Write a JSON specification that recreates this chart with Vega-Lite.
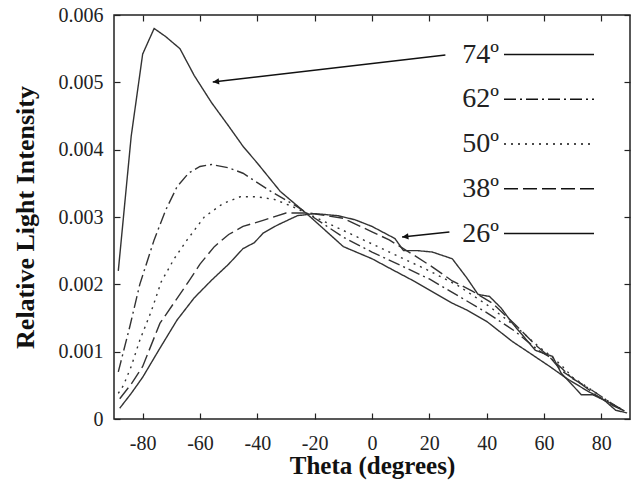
{
  "$schema": "https://vega.github.io/schema/vega-lite/v6.json",
  "width": 516,
  "height": 404,
  "autosize": {"type": "none"},
  "padding": {"left": 114, "top": 15, "right": 6, "bottom": 64},
  "background": "white",
  "config": {
    "font": "Liberation Serif",
    "view": {"stroke": "#222", "strokeWidth": 1.5},
    "axis": {
      "domain": false,
      "grid": false,
      "tickColor": "#222",
      "tickSize": -6,
      "tickWidth": 1.2,
      "labelFont": "Liberation Serif",
      "labelFontSize": 20,
      "labelColor": "#222",
      "titleFont": "Liberation Serif",
      "titleFontSize": 26,
      "titleFontWeight": "bold",
      "titleColor": "#111"
    }
  },
  "datasets": {
    "curves": [
      {"series": "74º", "theta": -88.5, "intensity": 0.0022},
      {"series": "74º", "theta": -84, "intensity": 0.0042},
      {"series": "74º", "theta": -80, "intensity": 0.00542},
      {"series": "74º", "theta": -76, "intensity": 0.0058},
      {"series": "74º", "theta": -72, "intensity": 0.00568},
      {"series": "74º", "theta": -67, "intensity": 0.0055},
      {"series": "74º", "theta": -62, "intensity": 0.0051},
      {"series": "74º", "theta": -56, "intensity": 0.0047},
      {"series": "74º", "theta": -50, "intensity": 0.00435},
      {"series": "74º", "theta": -45, "intensity": 0.00405},
      {"series": "74º", "theta": -40, "intensity": 0.0038},
      {"series": "74º", "theta": -32, "intensity": 0.00338},
      {"series": "74º", "theta": -22, "intensity": 0.00302},
      {"series": "74º", "theta": -10, "intensity": 0.00256},
      {"series": "74º", "theta": 0, "intensity": 0.00238},
      {"series": "74º", "theta": 7, "intensity": 0.00222},
      {"series": "74º", "theta": 15, "intensity": 0.00204},
      {"series": "74º", "theta": 28, "intensity": 0.00172},
      {"series": "74º", "theta": 33, "intensity": 0.00162},
      {"series": "74º", "theta": 40, "intensity": 0.00145},
      {"series": "74º", "theta": 49, "intensity": 0.00115},
      {"series": "74º", "theta": 55, "intensity": 0.00098},
      {"series": "74º", "theta": 62, "intensity": 0.00078},
      {"series": "74º", "theta": 68, "intensity": 0.0006},
      {"series": "74º", "theta": 75, "intensity": 0.00042},
      {"series": "74º", "theta": 82, "intensity": 0.00026},
      {"series": "74º", "theta": 88, "intensity": 0.00012},

      {"series": "62º", "theta": -88.5, "intensity": 0.0007},
      {"series": "62º", "theta": -84.5, "intensity": 0.00137},
      {"series": "62º", "theta": -81, "intensity": 0.002},
      {"series": "62º", "theta": -76, "intensity": 0.00266},
      {"series": "62º", "theta": -72, "intensity": 0.0031},
      {"series": "62º", "theta": -68, "intensity": 0.00345},
      {"series": "62º", "theta": -64, "intensity": 0.00365},
      {"series": "62º", "theta": -60, "intensity": 0.00375},
      {"series": "62º", "theta": -56, "intensity": 0.00378},
      {"series": "62º", "theta": -50, "intensity": 0.00373},
      {"series": "62º", "theta": -45, "intensity": 0.00365},
      {"series": "62º", "theta": -36, "intensity": 0.0034},
      {"series": "62º", "theta": -26, "intensity": 0.00315},
      {"series": "62º", "theta": -22, "intensity": 0.00304},
      {"series": "62º", "theta": -10, "intensity": 0.0027},
      {"series": "62º", "theta": 0, "intensity": 0.00248},
      {"series": "62º", "theta": 10, "intensity": 0.00228},
      {"series": "62º", "theta": 20, "intensity": 0.00208},
      {"series": "62º", "theta": 28, "intensity": 0.00188},
      {"series": "62º", "theta": 40, "intensity": 0.00158},
      {"series": "62º", "theta": 50, "intensity": 0.0013},
      {"series": "62º", "theta": 58, "intensity": 0.00102},
      {"series": "62º", "theta": 62, "intensity": 0.00092},
      {"series": "62º", "theta": 66, "intensity": 0.00076},
      {"series": "62º", "theta": 70, "intensity": 0.0006},
      {"series": "62º", "theta": 77, "intensity": 0.00042},
      {"series": "62º", "theta": 84, "intensity": 0.00022},
      {"series": "62º", "theta": 88, "intensity": 0.00012},

      {"series": "50º", "theta": -88.5, "intensity": 0.00038},
      {"series": "50º", "theta": -86.7, "intensity": 0.0005},
      {"series": "50º", "theta": -84, "intensity": 0.00078},
      {"series": "50º", "theta": -81, "intensity": 0.00117},
      {"series": "50º", "theta": -77, "intensity": 0.0016},
      {"series": "50º", "theta": -73.5, "intensity": 0.00204},
      {"series": "50º", "theta": -69, "intensity": 0.00238},
      {"series": "50º", "theta": -64.5, "intensity": 0.00266},
      {"series": "50º", "theta": -58.5, "intensity": 0.003},
      {"series": "50º", "theta": -52, "intensity": 0.0032},
      {"series": "50º", "theta": -46, "intensity": 0.0033},
      {"series": "50º", "theta": -40, "intensity": 0.0033},
      {"series": "50º", "theta": -34, "intensity": 0.00326},
      {"series": "50º", "theta": -28, "intensity": 0.00316},
      {"series": "50º", "theta": -22, "intensity": 0.00304},
      {"series": "50º", "theta": -10, "intensity": 0.0028},
      {"series": "50º", "theta": 0, "intensity": 0.0026},
      {"series": "50º", "theta": 10, "intensity": 0.0024},
      {"series": "50º", "theta": 20, "intensity": 0.0022},
      {"series": "50º", "theta": 30, "intensity": 0.00198},
      {"series": "50º", "theta": 40, "intensity": 0.0017},
      {"series": "50º", "theta": 50, "intensity": 0.00138},
      {"series": "50º", "theta": 58, "intensity": 0.00108},
      {"series": "50º", "theta": 62, "intensity": 0.00095},
      {"series": "50º", "theta": 66, "intensity": 0.0008},
      {"series": "50º", "theta": 70, "intensity": 0.00062},
      {"series": "50º", "theta": 77, "intensity": 0.00042},
      {"series": "50º", "theta": 84, "intensity": 0.00022},
      {"series": "50º", "theta": 88, "intensity": 0.00012},

      {"series": "38º", "theta": -88, "intensity": 0.0003},
      {"series": "38º", "theta": -84, "intensity": 0.00052},
      {"series": "38º", "theta": -80, "intensity": 0.00078},
      {"series": "38º", "theta": -74, "intensity": 0.00142},
      {"series": "38º", "theta": -68.5, "intensity": 0.00176},
      {"series": "38º", "theta": -64, "intensity": 0.00204},
      {"series": "38º", "theta": -60, "intensity": 0.0023},
      {"series": "38º", "theta": -55, "intensity": 0.00256},
      {"series": "38º", "theta": -50, "intensity": 0.00274},
      {"series": "38º", "theta": -45, "intensity": 0.00286},
      {"series": "38º", "theta": -38, "intensity": 0.00295},
      {"series": "38º", "theta": -30, "intensity": 0.00306},
      {"series": "38º", "theta": -22, "intensity": 0.00306},
      {"series": "38º", "theta": -10, "intensity": 0.00298},
      {"series": "38º", "theta": 0, "intensity": 0.00278},
      {"series": "38º", "theta": 6, "intensity": 0.00266},
      {"series": "38º", "theta": 14, "intensity": 0.00245},
      {"series": "38º", "theta": 21, "intensity": 0.00226},
      {"series": "38º", "theta": 28, "intensity": 0.00205},
      {"series": "38º", "theta": 35, "intensity": 0.0019},
      {"series": "38º", "theta": 42, "intensity": 0.00172},
      {"series": "38º", "theta": 50, "intensity": 0.0014},
      {"series": "38º", "theta": 57, "intensity": 0.0011},
      {"series": "38º", "theta": 62, "intensity": 0.00092},
      {"series": "38º", "theta": 66, "intensity": 0.00072},
      {"series": "38º", "theta": 72, "intensity": 0.00055},
      {"series": "38º", "theta": 78, "intensity": 0.00036},
      {"series": "38º", "theta": 84, "intensity": 0.0002},
      {"series": "38º", "theta": 88, "intensity": 0.00012},

      {"series": "26º", "theta": -88, "intensity": 0.00016},
      {"series": "26º", "theta": -84, "intensity": 0.00038},
      {"series": "26º", "theta": -80, "intensity": 0.00062},
      {"series": "26º", "theta": -74, "intensity": 0.00105},
      {"series": "26º", "theta": -68, "intensity": 0.00147},
      {"series": "26º", "theta": -62, "intensity": 0.0018},
      {"series": "26º", "theta": -56, "intensity": 0.00206},
      {"series": "26º", "theta": -50, "intensity": 0.0023},
      {"series": "26º", "theta": -45, "intensity": 0.00253},
      {"series": "26º", "theta": -41, "intensity": 0.00262},
      {"series": "26º", "theta": -38, "intensity": 0.00276},
      {"series": "26º", "theta": -33, "intensity": 0.00288},
      {"series": "26º", "theta": -26, "intensity": 0.00302},
      {"series": "26º", "theta": -20, "intensity": 0.00305},
      {"series": "26º", "theta": -12, "intensity": 0.00302},
      {"series": "26º", "theta": -6, "intensity": 0.00296},
      {"series": "26º", "theta": 0, "intensity": 0.00286},
      {"series": "26º", "theta": 8, "intensity": 0.00268},
      {"series": "26º", "theta": 11, "intensity": 0.0025},
      {"series": "26º", "theta": 16, "intensity": 0.0025},
      {"series": "26º", "theta": 21, "intensity": 0.00248},
      {"series": "26º", "theta": 28, "intensity": 0.00238},
      {"series": "26º", "theta": 33, "intensity": 0.0021},
      {"series": "26º", "theta": 37, "intensity": 0.00185},
      {"series": "26º", "theta": 41, "intensity": 0.00182},
      {"series": "26º", "theta": 45, "intensity": 0.00165},
      {"series": "26º", "theta": 49, "intensity": 0.00142},
      {"series": "26º", "theta": 53, "intensity": 0.00122},
      {"series": "26º", "theta": 57, "intensity": 0.00102},
      {"series": "26º", "theta": 63, "intensity": 0.00093},
      {"series": "26º", "theta": 66, "intensity": 0.00068},
      {"series": "26º", "theta": 70, "intensity": 0.0005},
      {"series": "26º", "theta": 73, "intensity": 0.00036},
      {"series": "26º", "theta": 77, "intensity": 0.00036},
      {"series": "26º", "theta": 81, "intensity": 0.00028},
      {"series": "26º", "theta": 85, "intensity": 0.00013},
      {"series": "26º", "theta": 89, "intensity": 0.00009}
    ],
    "arrows": [
      {"label": "74º", "x0": 25.6, "y0": 0.005406, "x1": -55.55, "y1": 0.005005},
      {"label": "26º", "x0": 27.0, "y0": 0.002777, "x1": 10.5, "y1": 0.002703}
    ]
  },
  "layer": [
    {
      "data": {"name": "curves"},
      "mark": {"type": "line", "stroke": "#333", "strokeWidth": 1.4},
      "encoding": {
        "x": {
          "field": "theta", "type": "quantitative",
          "scale": {"domain": [-90, 90], "nice": false, "zero": false},
          "axis": {
            "orient": "bottom",
            "values": [-80, -60, -40, -20, 0, 20, 40, 60, 80],
            "labelExpr": "'' + datum.value",
            "labelPadding": 20,
            "title": "Theta (degrees)",
            "titleFontSize": 25,
            "titlePadding": 0
          }
        },
        "y": {
          "field": "intensity", "type": "quantitative",
          "scale": {"domain": [0, 0.006], "nice": false},
          "axis": {
            "orient": "left",
            "values": [0, 0.001, 0.002, 0.003, 0.004, 0.005, 0.006],
            "labelExpr": "datum.value == 0 ? '0' : format(datum.value, '.3f')",
            "labelPadding": 17,
            "title": "Relative Light Intensity",
            "titlePadding": 20
          }
        },
        "strokeDash": {
          "field": "series", "type": "nominal",
          "scale": {
            "domain": ["74º", "62º", "50º", "38º", "26º"],
            "range": [[1, 0], [12, 4, 2, 4], [2, 5], [14, 5], [1, 0]]
          },
          "legend": {
            "title": null,
            "orient": "none",
            "legendX": 421,
            "legendY": 25.5,
            "symbolType": "M-9,0H9",
            "symbolSize": 100,
            "symbolStrokeWidth": 1.5,
            "symbolStrokeColor": "#111",
            "symbolFillColor": "transparent",
            "labelFont": "Liberation Serif",
            "labelFontSize": 28,
            "labelColor": "#222",
            "labelAlign": "right",
            "labelOffset": -64,
            "rowPadding": 16.75
          }
        }
      }
    },
    {
      "data": {"name": "arrows"},
      "mark": {"type": "rule", "stroke": "#111", "strokeWidth": 1.5},
      "encoding": {
        "x": {"field": "x0", "type": "quantitative", "axis": null},
        "y": {"field": "y0", "type": "quantitative", "axis": null},
        "x2": {"field": "x1"},
        "y2": {"field": "y1"}
      }
    },
    {
      "data": {"name": "arrows"},
      "mark": {"type": "point", "shape": "M0,0L2,-1L2,1Z", "filled": true, "fill": "#111", "size": 40, "angle": -6.5, "opacity": 1, "strokeWidth": 0},
      "encoding": {
        "x": {"field": "x1", "type": "quantitative", "axis": null},
        "y": {"field": "y1", "type": "quantitative", "axis": null}
      }
    },
    {
      "data": {"name": "curves"},
      "mark": {"type": "line", "opacity": 0},
      "encoding": {
        "x": {
          "field": "theta", "type": "quantitative",
          "axis": {"orient": "top", "values": [-80, -60, -40, -20, 0, 20, 40, 60, 80], "labels": false, "title": null}
        },
        "y": {
          "field": "intensity", "type": "quantitative",
          "axis": {"orient": "right", "values": [0, 0.001, 0.002, 0.003, 0.004, 0.005, 0.006], "labels": false, "title": null}
        }
      }
    }
  ],
  "resolve": {"axis": {"x": "independent", "y": "independent"}}
}
